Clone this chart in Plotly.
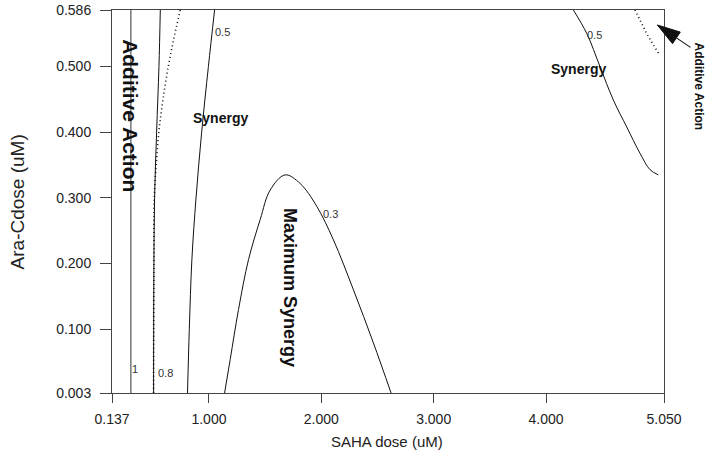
import plotly.graph_objects as go

# ---- data ----
x_ticks = [0.137, 1.0, 2.0, 3.0, 4.0, 5.05]
x_ticktext = ["0.137", "1.000", "2.000", "3.000", "4.000", "5.050"]
y_ticks = [0.003, 0.1, 0.2, 0.3, 0.4, 0.5, 0.586]
y_ticktext = ["0.003", "0.100", "0.200", "0.300", "0.400", "0.500", "0.586"]

# contour CI = 1 (additive line)
c1_x = [0.305, 0.305]
c1_y = [0.003, 0.586]

# contour CI = 0.8 (solid)
c08_x = [0.507, 0.508, 0.510, 0.516, 0.534, 0.555, 0.567]
c08_y = [0.003, 0.100, 0.200, 0.300, 0.400, 0.500, 0.586]

# additive boundary (dotted), left
dot_l_x = [0.507, 0.508, 0.510, 0.513, 0.530, 0.554, 0.591, 0.638, 0.684, 0.745]
dot_l_y = [0.003, 0.100, 0.200, 0.300, 0.350, 0.400, 0.450, 0.500, 0.540, 0.586]

# contour CI = 0.5, left
c05l_x = [0.809, 0.825, 0.848, 0.885, 0.935, 0.995, 1.050]
c05l_y = [0.003, 0.100, 0.206, 0.300, 0.400, 0.500, 0.586]

# contour CI = 0.3 (maximum synergy arch)
c03_x = [1.139, 1.189, 1.263, 1.352, 1.456, 1.545, 1.678, 1.811, 1.960, 2.108, 2.286, 2.464, 2.621]
c03_y = [0.003, 0.054, 0.130, 0.206, 0.267, 0.312, 0.335, 0.322, 0.287, 0.236, 0.160, 0.079, 0.003]

# contour CI = 0.5, right
c05r_x = [4.243, 4.362, 4.480, 4.599, 4.718, 4.836, 4.925, 4.999]
c05r_y = [0.586, 0.5505, 0.500, 0.449, 0.408, 0.368, 0.343, 0.335]

# additive boundary (dotted), right
dot_r_x = [4.792, 4.896, 5.008]
dot_r_y = [0.586, 0.550, 0.518]

# contour level labels
lvl_text = ["1", "0.8", "0.5", "0.5", "0.3"]
lvl_x = [0.340, 0.611, 1.123, 4.427, 2.083]
lvl_y = [0.040, 0.034, 0.553, 0.548, 0.276]

# region labels
reg_text = ["Additive Action", "Synergy", "Synergy", "Maximum Synergy"]
reg_x = [0.300, 1.105, 4.292, 1.723]
reg_y = [0.4255, 0.422, 0.496, 0.164]
reg_angle = [90, 0, 0, 90]
reg_size = [21, 14, 14, 18]

FONT = "Liberation Sans, Arial, sans-serif"

fig = go.Figure()

def add_line(xs, ys, color="#111", width=1.0, dash="solid", shape="spline"):
    fig.add_trace(go.Scatter(x=xs, y=ys, mode="lines",
                             line=dict(color=color, width=width, dash=dash, shape=shape, smoothing=1.0),
                             hoverinfo="skip", showlegend=False))

add_line(c1_x, c1_y, color="#555", width=1.2, shape="linear")
add_line(dot_l_x, dot_l_y, color="#111", width=1.6, dash="1px,3px")
add_line(c08_x, c08_y, color="#111", width=1.0)
add_line(c05l_x, c05l_y, color="#111", width=1.0)
add_line(c03_x, c03_y, color="#111", width=1.0)
add_line(c05r_x, c05r_y, color="#111", width=1.0)
add_line(dot_r_x, dot_r_y, color="#111", width=1.6, dash="1px,3px", shape="linear")

annotations = []
for t, x, y in zip(lvl_text, lvl_x, lvl_y):
    annotations.append(dict(x=x, y=y, xref="x", yref="y", text=t, showarrow=False,
                            font=dict(family=FONT, size=11, color="#333"),
                            xanchor="center", yanchor="middle"))
for t, x, y, a, s in zip(reg_text, reg_x, reg_y, reg_angle, reg_size):
    annotations.append(dict(x=x, y=y, xref="x", yref="y", text="<b>" + t + "</b>", showarrow=False,
                            textangle=a, font=dict(family=FONT, size=s, color="#111"),
                            xanchor="center", yanchor="middle"))

annotations.append(dict(x=1.0, y=0.80, xref="paper", yref="paper", xshift=35,
                        text="<b>Additive Action</b>", showarrow=False, textangle=90,
                        font=dict(family=FONT, size=12, color="#111"),
                        xanchor="center", yanchor="middle"))

# axis titles
annotations.append(dict(x=-0.1705, y=0.5, xref="paper", yref="paper", text="Ara-Cdose (uM)",
                        showarrow=False, textangle=-90,
                        font=dict(family=FONT, size=19, color="#222"),
                        xanchor="center", yanchor="middle"))
annotations.append(dict(x=0.4985, y=-0.1263, xref="paper", yref="paper", text="SAHA dose (uM)",
                        showarrow=False,
                        font=dict(family=FONT, size=15, color="#222"),
                        xanchor="center", yanchor="middle"))

# pointer arrow (decoration, paper coordinates): slender filled head + shaft
shapes = [
    dict(type="path", xref="paper", yref="paper",
         path="M 0.9879 0.9609 L 1.0154 0.9121 L 1.0295 0.9423 Z",
         fillcolor="#111", line=dict(color="#111", width=1)),
    dict(type="line", xref="paper", yref="paper",
         x0=1.0225, y0=0.9272, x1=1.0480, y1=0.9024,
         line=dict(color="#111", width=1.1)),
]

fig.update_layout(
    width=706, height=452,
    margin=dict(l=112, r=42, t=10, b=59),
    paper_bgcolor="white", plot_bgcolor="white",
    font=dict(family=FONT, size=14, color="#222"),
    annotations=annotations,
    shapes=shapes,
    showlegend=False,
)
fig.update_xaxes(range=[0.137, 5.05], tickmode="array", tickvals=x_ticks, ticktext=x_ticktext,
                 showgrid=False, zeroline=False, showline=True, linecolor="#444", linewidth=1,
                 mirror=True, ticks="outside", ticklen=9, tickcolor="#444", tickwidth=1,
                 ticklabelstandoff=4, automargin=False,
                 tickfont=dict(family=FONT, size=14, color="#222"))
fig.update_yaxes(range=[0.003, 0.586], tickmode="array", tickvals=y_ticks, ticktext=y_ticktext,
                 showgrid=False, zeroline=False, showline=True, linecolor="#444", linewidth=1,
                 mirror=True, ticks="outside", ticklen=11, tickcolor="#444", tickwidth=1,
                 ticklabelstandoff=6, automargin=False,
                 tickfont=dict(family=FONT, size=14, color="#222"))

fig.write_html("out.html", config={"displayModeBar": False},
               post_script="document.body.style.margin='0';document.body.style.overflow='hidden';")
